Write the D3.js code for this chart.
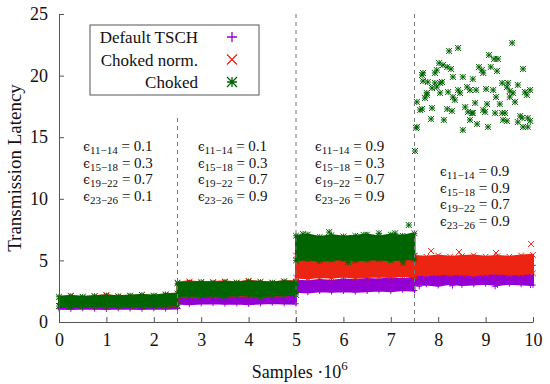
<!DOCTYPE html>
<html>
<head>
<meta charset="utf-8">
<script src="https://cdn.jsdelivr.net/npm/d3@7"></script>
<style>
  body { margin: 0; background: #fff; font-family: "Liberation Serif", serif; }
  #chart text { font-family: "Liberation Serif", serif; }
</style>
</head>
<body>
<div id="chart"></div>
<script>
// ---- data ----
var xTicks = [0, 1, 2, 3, 4, 5, 6, 7, 8, 9, 10];
var yTicks = [0, 5, 10, 15, 20, 25];
var boundaries = [2.5, 5, 7.5];
var boundaryTop = [16.8, 25, 25];
var segmentStart = [0, 2.5, 5, 7.5];

// dense bands: low / high envelope per 2.5 segment, sampled every 0.25
var tschLo = [
  [1.08, 1.05, 1.1, 1.07, 1.05, 1.1, 1.08, 1.06, 1.1, 1.07, 1.1],
  [1.5, 1.45, 1.5, 1.52, 1.48, 1.5, 1.45, 1.5, 1.55, 1.5, 1.48],
  [2.45, 2.4, 2.5, 2.45, 2.5, 2.45, 2.5, 2.55, 2.5, 2.6, 2.55],
  [3.0, 3.05, 2.95, 3.1, 3.0, 3.05, 3.1, 3.0, 3.1, 3.05, 3.0]
];
var tschHi = [
  [1.5, 1.5, 1.55, 1.5, 1.5, 1.55, 1.5, 1.5, 1.55, 1.5, 1.55],
  [2.3, 2.25, 2.3, 2.3, 2.25, 2.3, 2.3, 2.25, 2.3, 2.3, 2.3],
  [3.35, 3.3, 3.4, 3.35, 3.45, 3.4, 3.5, 3.45, 3.55, 3.5, 3.6],
  [4.3, 4.2, 4.35, 4.25, 4.3, 4.4, 4.3, 4.35, 4.4, 4.45, 4.6]
];
var normLo = [
  [1.3, 1.3, 1.32, 1.3, 1.3, 1.32, 1.3, 1.3, 1.32, 1.3, 1.35],
  [2.1, 2.12, 2.1, 2.15, 2.1, 2.15, 2.12, 2.1, 2.15, 2.15, 2.2],
  [3.6, 3.55, 3.65, 3.6, 3.7, 3.6, 3.65, 3.7, 3.65, 3.75, 3.7],
  [3.85, 3.8, 3.9, 3.85, 3.9, 3.8, 3.9, 3.95, 3.85, 3.9, 3.95]
];
var normHi = [
  [2.0, 2.15, 2.0, 2.1, 2.2, 2.05, 2.1, 2.2, 2.1, 2.2, 2.3],
  [3.2, 3.3, 3.2, 3.25, 3.3, 3.2, 3.35, 3.25, 3.2, 3.3, 3.3],
  [5.4, 5.3, 5.4, 5.35, 5.4, 5.3, 5.4, 5.35, 5.4, 5.3, 5.4],
  [5.35, 5.3, 5.4, 5.3, 5.35, 5.4, 5.3, 5.35, 5.3, 5.4, 5.45]
];
var chokedLo = [
  [1.3, 1.28, 1.3, 1.32, 1.3, 1.3, 1.32, 1.3, 1.3, 1.32, 1.35],
  [2.1, 2.15, 2.1, 2.15, 2.1, 2.2, 2.15, 2.1, 2.15, 2.2, 2.2],
  [5.0, 5.1, 4.95, 5.05, 5.1, 5.0, 5.05, 5.1, 5.0, 5.1, 5.1]
];
var chokedHi = [
  [2.05, 2.1, 2.05, 2.1, 2.15, 2.1, 2.15, 2.2, 2.15, 2.25, 2.3],
  [3.15, 3.2, 3.25, 3.2, 3.25, 3.2, 3.3, 3.25, 3.2, 3.3, 3.25],
  [7.0, 7.1, 6.9, 7.05, 6.95, 7.0, 7.1, 6.95, 7.1, 7.0, 7.2]
];

// single points outside the bands
var tschPts = [[7.6, 2.9], [8.3, 2.95], [9.2, 2.9], [9.95, 3.0]];
var normPts = [[7.85, 5.76], [8.44, 5.68], [9.22, 5.6], [9.96, 6.33], [5.6, 5.6], [6.9, 5.55]];
var chokedPts = [
  [5.15, 7.14], [5.7, 7.3], [6.43, 7.06], [6.75, 7.2], [7.09, 7.2], [7.38, 7.87], [7.26, 4.8], [6.1, 4.85],
  [8.23, 22.0], [8.42, 22.24], [8.02, 21.02], [8.1, 20.86], [8.19, 20.7], [8.27, 20.54], [7.68, 20.21],
  [7.66, 20.05], [7.93, 20.21], [7.97, 20.45], [8.31, 19.89], [8.52, 19.89], [8.73, 19.72], [7.68, 19.56],
  [7.78, 19.48], [7.93, 19.4], [8.04, 19.4], [8.08, 19.48], [7.87, 18.99], [7.97, 19.07], [8.61, 19.07],
  [8.67, 18.83], [8.42, 18.83], [8.46, 18.59], [8.21, 18.67], [8.04, 18.59], [7.76, 18.59], [7.72, 18.18],
  [7.76, 18.43], [8.31, 18.26], [8.35, 18.02], [7.55, 17.86], [7.62, 17.21], [7.66, 17.29], [7.87, 17.37],
  [8.19, 17.29], [8.29, 17.13], [8.57, 17.45], [8.63, 17.05], [8.71, 16.96], [8.67, 16.4], [7.85, 16.48],
  [8.12, 16.4], [7.55, 15.83], [7.53, 15.75], [8.52, 15.58], [7.51, 13.88], [9.56, 22.65], [9.07, 21.67],
  [9.18, 21.35], [9.26, 21.35], [8.86, 20.7], [8.92, 20.45], [8.95, 20.21], [9.11, 20.7], [9.24, 20.37],
  [9.79, 20.54], [9.35, 19.4], [9.47, 19.4], [9.68, 19.24], [9.45, 19.07], [8.8, 18.83], [9.01, 18.91],
  [9.16, 18.83], [9.51, 18.75], [9.58, 18.59], [9.83, 18.67], [9.94, 18.83], [9.87, 18.43], [9.22, 18.26],
  [9.51, 18.26], [9.62, 17.86], [8.78, 17.78], [9.03, 17.69], [9.3, 17.69], [8.95, 17.21], [8.99, 17.05],
  [8.73, 16.96], [9.2, 16.96], [9.35, 16.96], [9.41, 16.96], [9.37, 16.4], [9.45, 16.32], [9.73, 16.72],
  [9.77, 16.56], [9.68, 16.23], [9.89, 16.56], [9.94, 16.32], [9.79, 15.83], [9.89, 15.83], [8.82, 16.07],
  [9.05, 15.83]
];

var seriesNames = ["Default TSCH", "Choked norm.", "Choked"];
var seriesColors = ["#9400d3", "#ec2412", "#006400"];

// epsilon annotations, one block per segment
var epsLabels = ["11\u221214", "15\u221218", "19\u221222", "23\u221226"];
var epsValues = [
  ["0.1", "0.3", "0.7", "0.1"],
  ["0.1", "0.3", "0.7", "0.9"],
  ["0.9", "0.3", "0.7", "0.9"],
  ["0.9", "0.9", "0.7", "0.9"]
];
var epsX = [0.51, 2.93, 5.4, 8.04];
var epsY = [13.88, 13.88, 13.88, 11.85];

// ---- layout ----
var W = 550, H = 384;
var FONT = "'Liberation Serif', serif";
var x = d3.scaleLinear().domain([0, 10]).range([59, 533]);
var y = d3.scaleLinear().domain([0, 25]).range([322, 14]);

var svg = d3.select("#chart").append("svg")
    .attr("width", W)
    .attr("height", H);

function markerPath(kind, s) {
    var plus = "M" + (-s) + ",0H" + s + "M0," + (-s) + "V" + s;
    var cross = "M" + (-s) + "," + (-s) + "L" + s + "," + s + "M" + (-s) + "," + s + "L" + s + "," + (-s);
    if (kind == 0) return plus;
    if (kind == 1) return cross;
    return plus + cross;
}

function bandRows(lo, hi, start) {
    return lo.map(function (v, i) {
        return { x: start + i * 0.25, lo: v, hi: hi[i] };
    });
}

var area = d3.area()
    .x(function (d) { return x(d.x); })
    .y0(function (d) { return y(d.lo); })
    .y1(function (d) { return y(d.hi); });

var bands = [[tschLo, tschHi], [normLo, normHi], [chokedLo, chokedHi]];
var points = [tschPts, normPts, chokedPts];

bands.forEach(function (b, k) {
    var g = svg.append("g");
    b[0].forEach(function (lo, s) {
        var rows = bandRows(lo, b[1][s], segmentStart[s]);
        g.append("path")
            .attr("d", area(rows))
            .attr("fill", seriesColors[k])
            .attr("stroke", seriesColors[k])
            .attr("stroke-width", 2);
        // ragged edges
        var edge = [];
        rows.forEach(function (r) {
            edge.push([r.x, r.lo]);
            edge.push([r.x, r.hi]);
        });
        g.selectAll(null)
            .data(edge)
            .enter().append("path")
            .attr("transform", function (d) { return "translate(" + x(d[0]) + "," + y(d[1]) + ")"; })
            .attr("d", markerPath(k, 2.8))
            .attr("stroke", seriesColors[k])
            .attr("stroke-width", 1)
            .attr("fill", "none");
    });
    g.selectAll(null)
        .data(points[k])
        .enter().append("path")
        .attr("transform", function (d) { return "translate(" + x(d[0]) + "," + y(d[1]) + ")"; })
        .attr("d", markerPath(k, 3))
        .attr("stroke", seriesColors[k])
        .attr("stroke-width", 1)
        .attr("fill", "none");
});

// dashed boundaries
svg.append("g")
    .selectAll("line")
    .data(boundaries)
    .enter().append("line")
    .attr("x1", function (d) { return x(d); })
    .attr("x2", function (d) { return x(d); })
    .attr("y1", y(0))
    .attr("y2", function (d, i) { return y(boundaryTop[i]); })
    .attr("stroke", "#777")
    .attr("stroke-width", 1)
    .attr("stroke-dasharray", "4,4");

// axes
var xAxis = svg.append("g")
    .attr("transform", "translate(0," + y(0) + ")")
    .call(d3.axisBottom(x).tickValues(xTicks).tickSizeInner(-5).tickSizeOuter(0).tickPadding(11));
var yAxis = svg.append("g")
    .attr("transform", "translate(" + x(0) + ",0)")
    .call(d3.axisLeft(y).tickValues(yTicks).tickSizeInner(-5).tickSizeOuter(0).tickPadding(11));
[xAxis, yAxis].forEach(function (a) {
    a.attr("font-size", 18);
    a.select(".domain").attr("stroke", "#555");
    a.selectAll(".tick line").attr("stroke", "#555");
    a.selectAll(".tick text").attr("fill", "#111").style("font-family", FONT);
});

// axis titles
svg.append("text")
    .attr("transform", "translate(21," + y(12.5) + ") rotate(-90)")
    .attr("text-anchor", "middle")
    .attr("font-size", 19)
    .attr("fill", "#111")
    .style("font-family", FONT)
    .text("Transmission Latency");

var xt = svg.append("text")
    .attr("x", x(5.08))
    .attr("y", 378)
    .attr("text-anchor", "middle")
    .attr("font-size", 18)
    .attr("fill", "#111")
    .style("font-family", FONT);
xt.append("tspan").text("Samples \u00b710");
xt.append("tspan").attr("dy", -8).attr("font-size", 13).text("6");

// epsilon blocks
epsValues.forEach(function (vals, b) {
    var g = svg.append("g");
    vals.forEach(function (v, r) {
        var t = g.append("text")
            .attr("x", x(epsX[b]))
            .attr("y", y(epsY[b]) + r * 16.7)
            .attr("font-size", 15)
            .attr("fill", "#111")
            .style("font-family", FONT);
        t.append("tspan").style("font-family", "'DejaVu Serif', serif").attr("font-size", 12).text("\u03f5");
        t.append("tspan").attr("dy", 3).attr("font-size", 11).text(epsLabels[r]);
        t.append("tspan").attr("dy", -3).text(" = " + v);
    });
});

// legend
var lg = svg.append("g");
lg.append("rect")
    .attr("x", 90).attr("y", 25)
    .attr("width", 169).attr("height", 70)
    .attr("fill", "#fff")
    .attr("stroke", "#555");
seriesNames.forEach(function (name, i) {
    lg.append("text")
        .attr("x", 198)
        .attr("y", 43 + i * 22.5)
        .attr("text-anchor", "end")
        .attr("font-size", 17)
        .attr("fill", "#111")
        .style("font-family", FONT)
        .text(name);
    lg.append("path")
        .attr("transform", "translate(232," + (37 + i * 22.5) + ")")
        .attr("d", markerPath(i, 5))
        .attr("stroke", seriesColors[i])
        .attr("stroke-width", 1.3)
        .attr("fill", "none");
});
</script>
</body>
</html>
